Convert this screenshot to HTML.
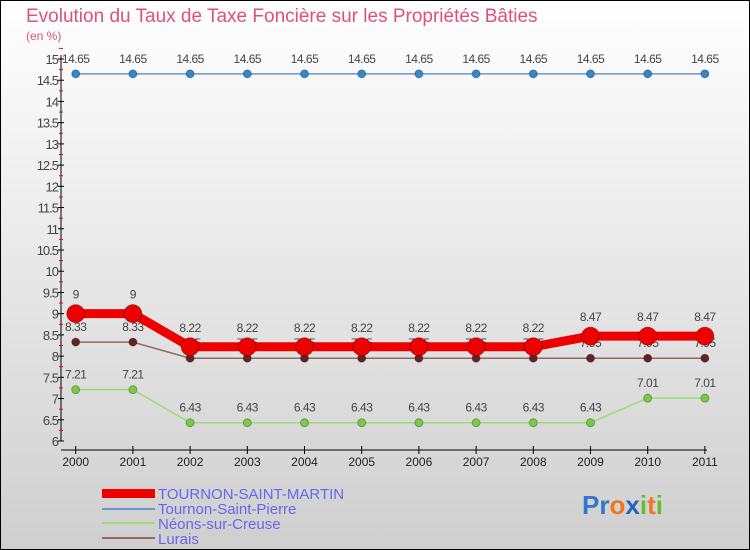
<!DOCTYPE html>
<html><head><meta charset="utf-8"><style>
body{margin:0;}
#wrap{width:750px;height:550px;position:relative;overflow:hidden;}
svg text{font-family:"Liberation Sans",sans-serif;}
</style></head><body>
<div id="wrap">
<svg id="chart" width="750" height="550" xmlns="http://www.w3.org/2000/svg">
<defs><linearGradient id="bg" x1="0" y1="0" x2="0" y2="1"><stop offset="0" stop-color="#ffffff"/><stop offset="1" stop-color="#cfcfcf"/></linearGradient></defs>
<rect x="0" y="0" width="750" height="550" fill="url(#bg)" stroke="#000" stroke-width="2"/>
<text x="26" y="22" font-size="19" fill="#e0507a">Evolution du Taux de Taxe Foncière sur les Propriétés Bâties</text>
<text x="26" y="40" font-size="12" fill="#e0507a">(en %)</text>
<g id="axes"></g>
<g id="series"></g>
<g id="legend">
<rect x="102" y="489" width="53" height="9" fill="#ee0000"/>
<text x="158" y="499" font-size="15" fill="#6666ee">TOURNON-SAINT-MARTIN</text>
<rect x="102" y="508" width="53" height="2" fill="#6699cc"/>
<text x="158" y="514" font-size="15" fill="#6666ee">Tournon-Saint-Pierre</text>
<rect x="102" y="522" width="53" height="2" fill="#99dd77"/>
<text x="158" y="529" font-size="15" fill="#6666ee">Néons-sur-Creuse</text>
<rect x="102" y="537" width="53" height="2" fill="#996666"/>
<text x="158" y="544" font-size="15" fill="#6666ee">Lurais</text>
</g>
<text x="582" y="514" font-size="26" font-weight="bold"><tspan fill="#3377cc">Pr</tspan><tspan fill="#ee7722">o</tspan><tspan fill="#2266bb">x</tspan><tspan fill="#66bb33">i</tspan><tspan fill="#ee7722">t</tspan><tspan fill="#66bb33">i</tspan></text>
</svg>
</div>
<script>
const years = [2000,2001,2002,2003,2004,2005,2006,2007,2008,2009,2010,2011];
const tsmValues = [9,9,8.22,8.22,8.22,8.22,8.22,8.22,8.22,8.47,8.47,8.47];
const tspValues = [14.65,14.65,14.65,14.65,14.65,14.65,14.65,14.65,14.65,14.65,14.65,14.65];
const neonsValues = [7.21,7.21,6.43,6.43,6.43,6.43,6.43,6.43,6.43,6.43,7.01,7.01];
const luraisValues = [8.33,8.33,7.95,7.95,7.95,7.95,7.95,7.95,7.95,7.95,7.95,7.95];
const yTicks = [6,6.5,7,7.5,8,8.5,9,9.5,10,10.5,11,11.5,12,12.5,13,13.5,14,14.5,15];
const yMin=6,yMax=15,yTop=59,yBot=441,xFirst=75.7,xStep=57.2;
const NS="http://www.w3.org/2000/svg";
function X(i){return xFirst+i*xStep;}
function Y(v){return yBot-(v-yMin)/(yMax-yMin)*(yBot-yTop);}
function mk(tag,attrs,parent){const e=document.createElementNS(NS,tag);for(const k in attrs)e.setAttribute(k,attrs[k]);parent.appendChild(e);return e;}
const axes=document.getElementById('axes');
let l=mk('line',{x1:61,y1:yTop-4,x2:61,y2:yBot,stroke:'#000','stroke-width':1},axes);


yTicks.forEach(v=>{
  let t=mk('line',{x1:58,y1:Y(v),x2:64,y2:Y(v),stroke:'#000'},axes);
  
  
  let m=mk('line',{x1:59,y1:Y(v+0.25),x2:63,y2:Y(v+0.25),stroke:'#e00'},axes);
  
  
  let tx=mk('text',{x:58,y:Y(v)+5,'font-size':13,'text-anchor':'end',fill:'#444','letter-spacing':'-1'},axes);
  tx.textContent=v;
  
  
});
let xa=mk('line',{x1:61,y1:450,x2:X(11)+2,y2:450,stroke:'#000'},axes);


years.forEach((y,i)=>{
  let t=mk('line',{x1:X(i),y1:446,x2:X(i),y2:454,stroke:'#000'},axes);
  
  
  let tx=mk('text',{x:X(i),y:466,'font-size':12,'text-anchor':'middle',fill:'#222'},axes);
  tx.textContent=y;
  
  
});
const ser=document.getElementById('series');
function draw(vals,color,dot,w,r,name){
  const g=mk('g',{},ser);
  
  
  const p=mk('polyline',{points:vals.map((v,i)=>X(i)+','+Y(v)).join(' '),fill:'none',stroke:color,'stroke-width':w},g);
  
  
  vals.forEach((v,i)=>{
    const c=mk('circle',{cx:X(i),cy:Y(v),r:r,fill:dot,stroke:'rgba(0,0,0,0.3)','stroke-width':1},g);
    
    
    const t=mk('text',{x:X(i),y:Y(v)-11-(r>5?4:0),'font-size':12,'text-anchor':'middle',fill:'#444','letter-spacing':'-0.5'},g);
    t.textContent=v;
    
    
  });
}
draw(tspValues,'#6699cc','#3388cc',1.5,4,'tournon-saint-pierre');
draw(neonsValues,'#99dd77','#77cc44',1.5,4,'neons-sur-creuse');
draw(luraisValues,'#996666','#662222',1.5,4,'lurais');
draw(tsmValues,'#ee0000','#ee0000',9,9,'tournon-saint-martin');
</script>
</body></html>
